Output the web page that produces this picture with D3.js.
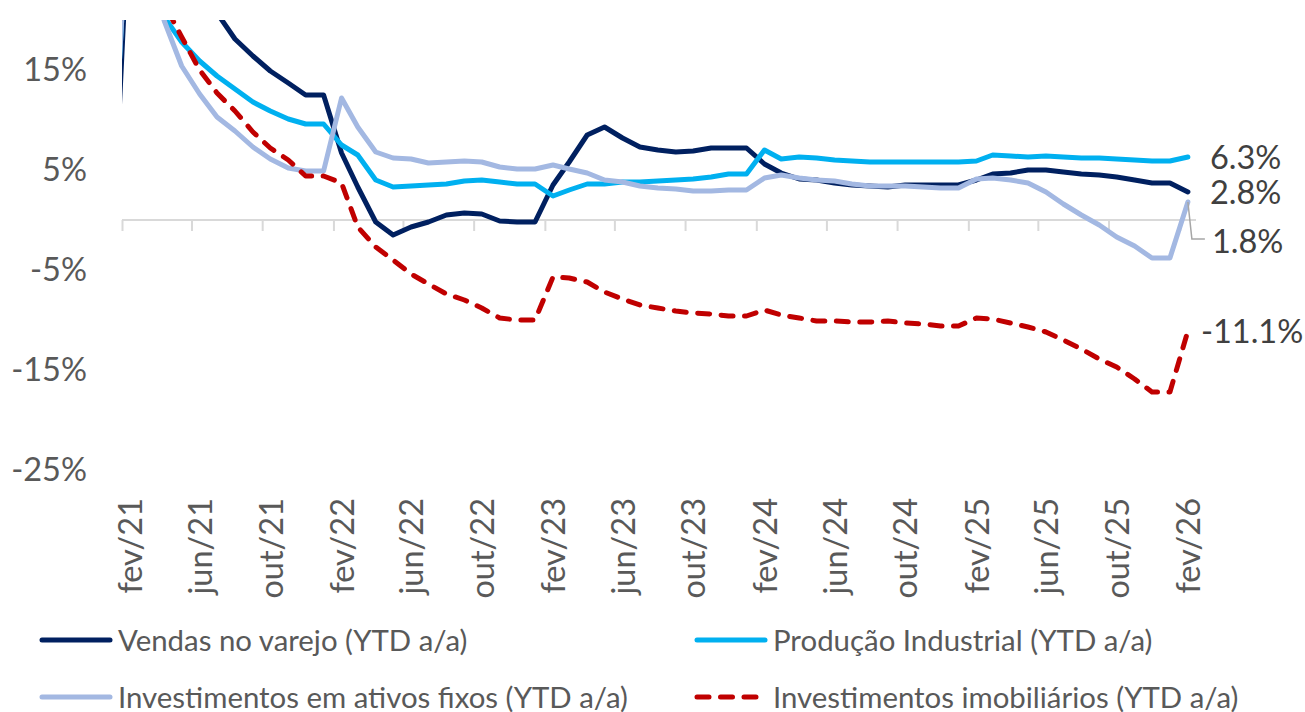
<!DOCTYPE html>
<html>
<head>
<meta charset="utf-8">
<script src="https://cdn.jsdelivr.net/npm/d3@7"></script>
<style>
  body { margin: 0; background: #fff; }
  text { font-family: Lato, "Open Sans", sans-serif; }
</style>
</head>
<body>
<svg id="chart" width="1305" height="712"></svg>
<script>
// meses (jan/21 repete dez/20; janeiros repetem dezembro)
const categorias = [
  "jan/21","fev/21","mar/21","abr/21","mai/21","jun/21","jul/21","ago/21","set/21","out/21","nov/21","dez/21",
  "jan/22","fev/22","mar/22","abr/22","mai/22","jun/22","jul/22","ago/22","set/22","out/22","nov/22","dez/22",
  "jan/23","fev/23","mar/23","abr/23","mai/23","jun/23","jul/23","ago/23","set/23","out/23","nov/23","dez/23",
  "jan/24","fev/24","mar/24","abr/24","mai/24","jun/24","jul/24","ago/24","set/24","out/24","nov/24","dez/24",
  "jan/25","fev/25","mar/25","abr/25","mai/25","jun/25","jul/25","ago/25","set/25","out/25","nov/25","dez/25",
  "jan/26","fev/26"
];

const vendas = [
  -3.9, 33.8, 33.9, 29.6, 25.7, 23.0, 20.7, 18.1, 16.4, 14.9, 13.7, 12.5,
  12.5, 6.7, 3.3, -0.2, -1.5, -0.7, -0.2, 0.5, 0.7, 0.6, -0.1, -0.2,
  -0.2, 3.5, 5.8, 8.5, 9.3, 8.2, 7.3, 7.0, 6.8, 6.9, 7.2, 7.2,
  7.2, 5.6, 4.7, 4.1, 4.0, 3.7, 3.5, 3.4, 3.3, 3.5, 3.5, 3.5,
  3.5, 4.0, 4.6, 4.7, 5.0, 5.0, 4.8, 4.6, 4.5, 4.3, 4.0, 3.7,
  3.7, 2.8
];
const producao = [
  2.8, 35.1, 24.5, 20.3, 17.8, 15.9, 14.4, 13.1, 11.8, 10.9, 10.1, 9.6,
  9.6, 7.5, 6.5, 4.0, 3.3, 3.4, 3.5, 3.6, 3.9, 4.0, 3.8, 3.6,
  3.6, 2.4, 3.0, 3.6, 3.6, 3.8, 3.8, 3.9, 4.0, 4.1, 4.3, 4.6,
  4.6, 7.0, 6.1, 6.3, 6.2, 6.0, 5.9, 5.8, 5.8, 5.8, 5.8, 5.8,
  5.8, 5.9, 6.5, 6.4, 6.3, 6.4, 6.3, 6.2, 6.2, 6.1, 6.0, 5.9,
  5.9, 6.3
];
const ativosFixos = [
  2.9, 35.0, 25.6, 19.9, 15.4, 12.6, 10.3, 8.9, 7.3, 6.1, 5.2, 4.9,
  4.9, 12.2, 9.3, 6.8, 6.2, 6.1, 5.7, 5.8, 5.9, 5.8, 5.3, 5.1,
  5.1, 5.5, 5.1, 4.7, 4.0, 3.8, 3.4, 3.2, 3.1, 2.9, 2.9, 3.0,
  3.0, 4.2, 4.5, 4.2, 4.0, 3.9, 3.6, 3.4, 3.4, 3.4, 3.3, 3.2,
  3.2, 4.1, 4.2, 4.0, 3.7, 2.8, 1.6, 0.5, -0.5, -1.7, -2.6, -3.8,
  -3.8, 1.8
];
const imobiliarios = [
  7.0, 38.3, 25.6, 21.6, 18.3, 15.0, 12.7, 10.9, 8.8, 7.2, 6.0, 4.4,
  4.4, 3.7, -0.7, -2.7, -4.0, -5.4, -6.4, -7.4, -8.0, -8.8, -9.8, -10.0,
  -10.0, -5.7, -5.8, -6.2, -7.2, -7.9, -8.5, -8.8, -9.1, -9.3, -9.4, -9.6,
  -9.6, -9.0, -9.5, -9.8, -10.1, -10.1, -10.2, -10.2, -10.1, -10.3, -10.4, -10.6,
  -10.6, -9.8, -9.9, -10.3, -10.7, -11.2, -12.0, -12.9, -13.9, -14.7, -15.9, -17.2,
  -17.2, -11.1
];

const nomes = [
  "Vendas no varejo (YTD a/a)",
  "Produção Industrial (YTD a/a)",
  "Investimentos em ativos fixos (YTD a/a)",
  "Investimentos imobiliários (YTD a/a)"
];
const rotulosX = ["fev/21","jun/21","out/21","fev/22","jun/22","out/22","fev/23","jun/23",
                  "out/23","fev/24","jun/24","out/24","fev/25","jun/25","out/25","fev/26"];
const ticksY = [-25, -15, -5, 5, 15];

const cores = ["#002060", "#00B0F0", "#A3B8E2", "#C00000"];
const tracos = [null, null, null, "12 11.5"];

const mesPt = ["jan","fev","mar","abr","mai","jun","jul","ago","set","out","nov","dez"];
const dataPt = (s, dia) => {
  const [m, a] = s.split("/");
  return new Date(2000 + (+a), mesPt.indexOf(m), dia);
};

const svg = d3.select("#chart");
const esq = 122, dir = 1196, topo = 20, base = 470;

const x = d3.scaleTime()
  .domain([new Date(2021, 1, 1), new Date(2026, 2, 1)])
  .range([esq, dir]);
const y = d3.scaleLinear().domain([-25, 20]).range([base, topo]);

svg.append("defs").append("clipPath").attr("id", "area")
  .append("rect").attr("x", esq).attr("y", topo)
  .attr("width", dir - esq).attr("height", base - topo);

// eixo X na linha do zero
const gx = svg.append("g").attr("transform", `translate(0,${y(0)})`)
  .call(d3.axisBottom(x)
    .tickValues(rotulosX.map(s => dataPt(s, 1)))
    .tickSize(11).tickFormat(""));
gx.select(".domain").attr("stroke", "#D9D9D9").attr("stroke-width", 2)
  .attr("d", `M${esq},0H${dir}`);
gx.selectAll(".tick line").attr("stroke", "#D9D9D9").attr("stroke-width", 2);

// rótulos do eixo X, embaixo
const gxl = svg.append("g").attr("transform", `translate(0,${base})`)
  .call(d3.axisBottom(x)
    .tickValues(rotulosX.map(s => dataPt(s, 15)))
    .tickSize(0)
    .tickFormat((d, i) => rotulosX[i]));
gxl.select(".domain").remove();
gxl.selectAll("text")
  .attr("transform", "rotate(-90)")
  .attr("x", -28).attr("y", 0).attr("dy", "0.36em")
  .attr("text-anchor", "end")
  .attr("fill", "#595959")
  .style("font-size", "32.5px");

// eixo Y
const gy = svg.append("g").attr("transform", `translate(${esq},0)`)
  .call(d3.axisLeft(y).tickValues(ticksY).tickSize(0).tickPadding(35)
    .tickFormat(d => d + "%"));
gy.select(".domain").remove();
gy.selectAll("text").attr("fill", "#595959").style("font-size", "32.5px");

// séries
const series = [vendas, producao, ativosFixos, imobiliarios];
const datas = categorias.map(s => dataPt(s, 15));
const linha = d3.line().x((d, i) => x(datas[i])).y(d => y(d));

const gl = svg.append("g").attr("clip-path", "url(#area)");
series.forEach((s, k) => {
  gl.append("path")
    .attr("d", linha(s))
    .attr("fill", "none")
    .attr("stroke", cores[k])
    .attr("stroke-width", 5)
    .attr("stroke-linejoin", "round")
    .attr("stroke-linecap", "round")
    .attr("stroke-dasharray", tracos[k]);
});

// rótulos finais
const ult = datas.length - 1;
const xu = x(datas[ult]);
const desloc = [[22, 0], [22, 0], [24, 39], [13, 0]];
series.forEach((s, k) => {
  const v = s[ult];
  svg.append("text")
    .attr("x", xu + desloc[k][0])
    .attr("y", y(v) + desloc[k][1])
    .attr("dy", "0.36em")
    .attr("fill", "#404040")
    .style("font-size", "32.5px")
    .text(d3.format(".1f")(v).replace("−", "-") + "%");
});
// linha guia do rótulo de ativos fixos
const yf = y(ativosFixos[ult]);
svg.append("path")
  .attr("d", `M${xu},${yf}L${xu + 4},${yf + 37}H${xu + 17}`)
  .attr("fill", "none").attr("stroke", "#A6A6A6").attr("stroke-width", 1.5);

// legenda
const legX = [42, 697], legY = [640, 697];
nomes.forEach((n, k) => {
  const lx = legX[k % 2], ly = legY[Math.floor(k / 2)];
  svg.append("line")
    .attr("x1", lx).attr("x2", lx + 68).attr("y1", ly).attr("y2", ly)
    .attr("stroke", cores[k]).attr("stroke-width", 5)
    .attr("stroke-linecap", "round")
    .attr("stroke-dasharray", tracos[k]);
  svg.append("text")
    .attr("x", lx + 76).attr("y", ly).attr("dy", "0.36em")
    .attr("fill", "#595959")
    .style("font-size", "29.4px")
    .text(n);
});
</script>
</body>
</html>
